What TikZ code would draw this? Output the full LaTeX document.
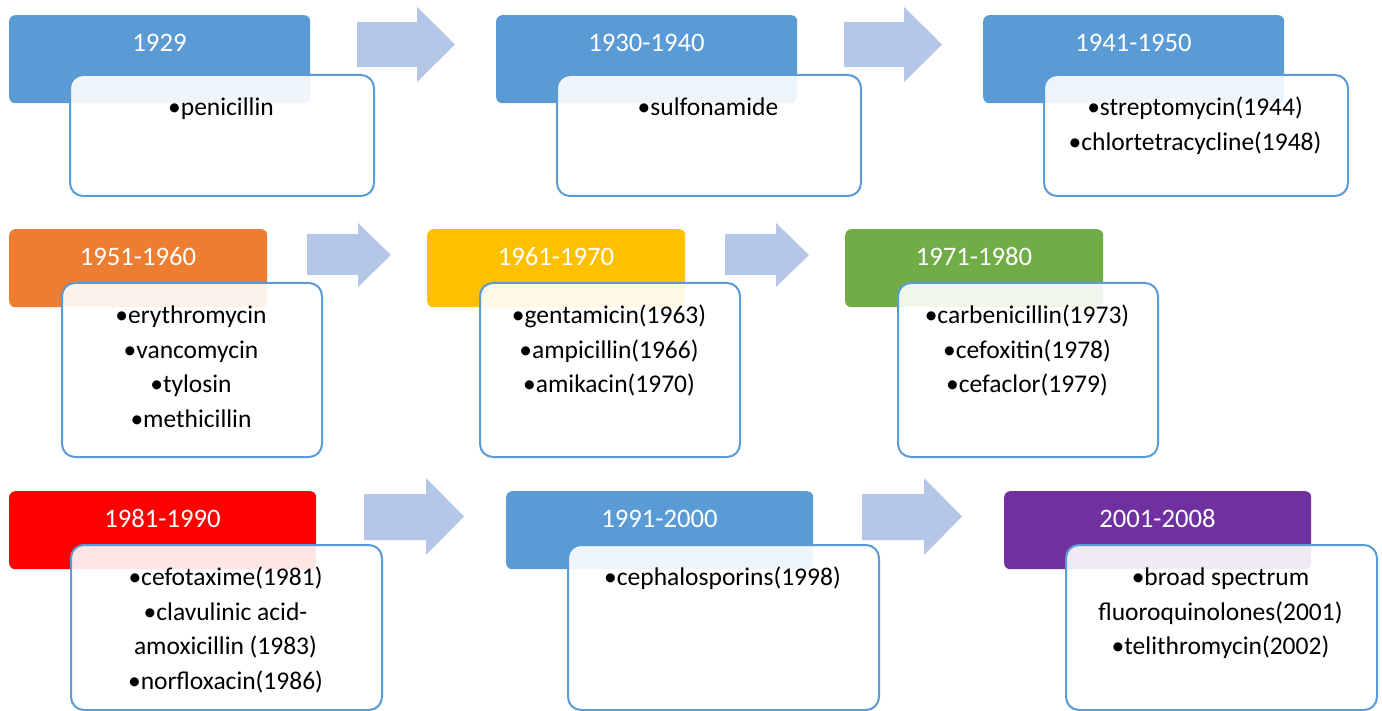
\documentclass[tikz,border=0pt]{standalone}
\usepackage{fontspec}
\setmainfont{Carlito}
\definecolor{cblue}{HTML}{5B9BD5}
\definecolor{corange}{HTML}{ED7D31}
\definecolor{cyellow}{HTML}{FFC000}
\definecolor{cgreen}{HTML}{70AD47}
\definecolor{cred}{HTML}{FF0000}
\definecolor{cpurple}{HTML}{7030A0}
\definecolor{arrowc}{HTML}{B4C7E7}
\definecolor{bord}{HTML}{5B9BD5}
\tikzset{
  hdr/.style={rectangle, rounded corners=6pt, anchor=north west, inner sep=0pt, draw=none},
  cbox/.style={rectangle, rounded corners=13pt, anchor=north west, inner sep=0pt, fill=white, fill opacity=0.9, draw=bord, draw opacity=1, line width=2pt},
  htext/.style={anchor=base, text=white, font=\fontsize{26.7}{30}\selectfont, inner sep=0pt},
  ctext/.style={anchor=north, align=center, font=\fontsize{25.5}{34.5}\selectfont, inner sep=0pt, text=black},
  barrow/.style={fill=arrowc, draw=none},
}
\newcommand\hw{301}\newcommand\hh{88}\newcommand\gdx{60}\newcommand\gdy{59}\newcommand\cw{304}\newcommand\ch{121}
\newcommand\grp[6]{%
  \node[hdr, fill=#4, minimum width=\hw pt, minimum height=\hh pt] (#1h) at (#2,#3) {};
  \node[cbox, minimum width=\cw pt, minimum height=\ch pt] (#1c) at (#2+\gdx,#3+\gdy) {};
  \node[htext] (#1l) at (#2+\hw/2,#3+36.3) {#5};
  \node[ctext] (#1t) at (#2+\gdx+\cw/2,#3+\gdy+20.5) {\rule{0pt}{21pt}#6};
}
\newcommand\barr[7]{%
  \fill[barrow] (#1,#2) -- (#4,#2) -- (#4,#5) -- (#7,{(#5+#6)/2}) -- (#4,#6) -- (#4,#3) -- (#1,#3) -- cycle;
}
\begin{document}
\begin{tikzpicture}[x=1pt,y=-1pt]
\useasboundingbox (0,0) rectangle (1382,711);
% row 1
\grp{a}{9}{15}{cblue}{1929}{•penicillin}
\grp{b}{496}{15}{cblue}{1930-1940}{•sulfonamide}
\grp{c}{983}{15}{cblue}{1941-1950}{•streptomycin(1944)\\•chlortetracycline(1948)}
\barr{357}{22}{67}{417}{7}{82}{455}
\barr{844}{22}{67}{904}{7}{82}{942}
% row 2
\renewcommand\hw{258}\renewcommand\hh{78}\renewcommand\gdx{52}\renewcommand\gdy{53}\renewcommand\cw{260}\renewcommand\ch{174}
\grp{d}{9}{229}{corange}{1951-1960}{•erythromycin\\•vancomycin\\•tylosin\\•methicillin}
\grp{e}{427}{229}{cyellow}{1961-1970}{•gentamicin(1963)\\•ampicillin(1966)\\•amikacin(1970)}
\grp{f}{845}{229}{cgreen}{1971-1980}{•carbenicillin(1973)\\•cefoxitin(1978)\\•cefaclor(1979)}
\barr{307}{234}{275}{358}{223}{287}{391}
\barr{725}{234}{275}{776}{223}{287}{809}
% row 3
\renewcommand\hw{307}\renewcommand\hh{78}\renewcommand\gdx{61}\renewcommand\gdy{53}\renewcommand\cw{311}\renewcommand\ch{165}
\grp{g}{9}{491}{cred}{1981-1990}{•cefotaxime(1981)\\•clavulinic acid-\\amoxicillin (1983)\\•norfloxacin(1986)}
\grp{h}{506}{491}{cblue}{1991-2000}{•cephalosporins(1998)}
\grp{i}{1004}{491}{cpurple}{2001-2008}{•broad spectrum\\fluoroquinolones(2001)\\•telithromycin(2002)}
\barr{364}{494}{540}{426}{478}{555}{464}
\barr{862}{494}{540}{924}{478}{555}{962}
\end{tikzpicture}
\end{document}
